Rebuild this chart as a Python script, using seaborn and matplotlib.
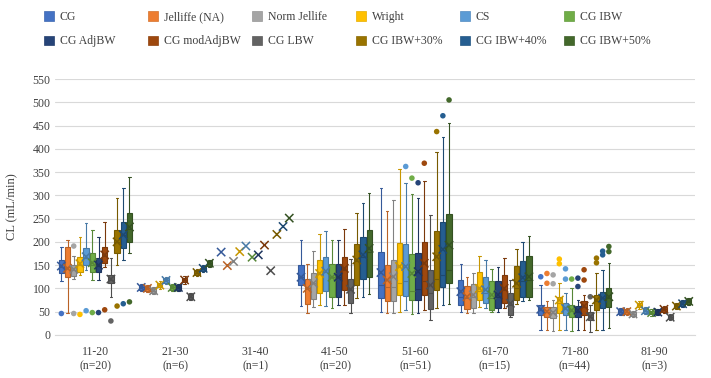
import matplotlib
matplotlib.use('Agg')
import matplotlib.pyplot as plt
import matplotlib.colors as mcolors
from matplotlib.patches import Patch
import seaborn as sns
import numpy as np
import pandas as pd

# age groups and methods
groups = ['11-20', '21-30', '31-40', '41-50', '51-60', '61-70', '71-80', '81-90']
group_n = [20, 6, 1, 20, 51, 15, 44, 3]
methods = ['CG', 'Jelliffe (NA)', 'Norm Jellife', 'Wright', 'CS', 'CG IBW',
           'CG AdjBW', 'CG modAdjBW', 'CG LBW', 'CG IBW+30%', 'CG IBW+40%', 'CG IBW+50%']
colors = ['#4472C4', '#ED7D31', '#A5A5A5', '#FFC000', '#5B9BD5', '#70AD47',
          '#264478', '#9E480E', '#636363', '#997300', '#255E91', '#43682B']

# box stats per method: [whisker low, q1, median, q3, whisker high, mean]
g11_20 = [[115, 134, 145, 162, 190, 148], [48, 125, 145, 190, 205, 143],
          [120, 127, 140, 150, 170, 141], [129, 136, 150, 167, 211, 153],
          [140, 150, 165, 186, 240, 168], [118, 136, 150, 175, 225, 155],
          [118, 136, 148, 165, 211, 150], [147, 154, 170, 190, 243, 172],
          [82, 111, 118, 129, 165, 120], [150, 175, 200, 226, 294, 200],
          [162, 186, 215, 243, 315, 215], [175, 200, 228, 261, 339, 232]]
g21_30 = [[94, 97, 102, 107, 110, 102], [92, 95, 100, 105, 108, 100],
          [88, 91, 95, 100, 102, 95], [99, 102, 107, 112, 115, 107],
          [109, 112, 117, 122, 125, 117], [94, 97, 102, 107, 110, 102],
          [94, 97, 102, 107, 110, 102], [110, 113, 118, 123, 126, 118],
          [75, 78, 82, 87, 89, 82], [126, 129, 134, 139, 142, 134],
          [135, 138, 143, 148, 151, 143], [146, 149, 154, 159, 162, 154]]
# n=1: only a single value per method
m31_40 = [178, 149, 158, 179, 191, 167, 172, 193, 138, 216, 233, 251]
g41_50 = [[62, 107, 125, 150, 205, 124], [48, 67, 100, 120, 152, 100],
          [61, 77, 111, 132, 180, 111], [64, 90, 131, 161, 217, 132],
          [62, 95, 136, 167, 224, 137], [57, 82, 124, 152, 204, 124],
          [64, 82, 125, 152, 205, 124], [64, 97, 140, 168, 227, 143],
          [48, 68, 97, 120, 163, 98], [79, 107, 158, 195, 263, 161],
          [81, 120, 168, 211, 284, 172], [87, 124, 179, 226, 306, 186]]
g51_60 = [[50, 79, 107, 179, 315, 134], [48, 72, 104, 150, 266, 118],
          [48, 72, 104, 160, 290, 125], [50, 86, 112, 197, 356, 147],
          [54, 84, 115, 195, 326, 147], [45, 74, 95, 174, 302, 132],
          [48, 75, 98, 175, 295, 136], [54, 86, 115, 199, 331, 154],
          [32, 55, 90, 140, 258, 107], [57, 97, 120, 224, 394, 168],
          [64, 104, 129, 242, 425, 184], [67, 111, 140, 259, 455, 193]]
g61_70 = [[50, 64, 82, 118, 152, 93], [47, 55, 79, 105, 125, 82],
          [47, 57, 82, 110, 132, 86], [61, 75, 95, 136, 170, 100],
          [57, 68, 90, 125, 161, 97], [50, 54, 79, 115, 141, 86],
          [50, 57, 82, 115, 147, 86], [57, 68, 97, 129, 166, 100],
          [39, 42, 64, 90, 118, 68], [67, 74, 100, 149, 184, 111],
          [72, 81, 115, 159, 200, 123], [74, 81, 118, 170, 213, 125]]
g71_80 = [[11, 43, 54, 64, 107, 55], [11, 39, 50, 59, 72, 50],
          [9, 36, 47, 59, 75, 48], [11, 48, 68, 81, 111, 75],
          [11, 43, 59, 68, 90, 57], [9, 38, 52, 64, 100, 53],
          [11, 38, 50, 62, 75, 53], [11, 43, 59, 72, 86, 62],
          [7, 31, 39, 50, 64, 39], [11, 54, 72, 86, 132, 75],
          [11, 57, 79, 93, 140, 79], [14, 61, 79, 100, 154, 82]]
g81_90 = [[42, 45, 50, 55, 58, 50], [42, 45, 50, 55, 58, 50],
          [38, 40, 45, 50, 52, 45], [56, 59, 64, 69, 72, 64],
          [45, 47, 52, 57, 59, 52], [41, 44, 48, 52, 55, 48],
          [42, 44, 49, 53, 56, 49], [48, 50, 55, 60, 62, 55],
          [31, 34, 38, 42, 45, 38], [55, 57, 62, 67, 69, 62],
          [60, 62, 67, 72, 74, 67], [65, 67, 72, 77, 79, 72]]

# outliers per method
out11_20 = [[46], [], [191, 46], [44], [52], [48], [48], [54], [30], [62], [67], [71]]
out51_60 = [[], [], [], [], [362], [337], [327], [369], [], [437], [471], [505]]
out71_80 = [[125], [132, 111], [129, 110], [163, 153], [142, 120], [120],
            [122, 104], [140, 118], [82], [165, 155], [180, 172], [190, 179]]

tables = {'11-20': g11_20, '21-30': g21_30, '41-50': g41_50, '51-60': g51_60,
          '61-70': g61_70, '71-80': g71_80, '81-90': g81_90}
outliers = {'11-20': out11_20, '51-60': out51_60, '71-80': out71_80}

BOX_W = 0.93


def darker(c, f=0.78):
    r, g, b = mcolors.to_rgb(c)
    return (r * f, g * f, b * f)


def dodge_x(gi, mi):
    step = BOX_W / len(methods)
    return gi + (mi - (len(methods) - 1) / 2) * step


# long tables
box_rows, mean_rows, out_rows = [], [], []
for gi, g in enumerate(groups):
    if g in tables:
        for mi, (m, row) in enumerate(zip(methods, tables[g])):
            for v in row[:5]:
                box_rows.append((g, m, v))
            mean_rows.append((dodge_x(gi, mi), m, row[5]))
    else:
        for mi, (m, v) in enumerate(zip(methods, m31_40)):
            mean_rows.append((dodge_x(gi, mi), m, v))
    if g in outliers:
        for mi, (m, vals) in enumerate(zip(methods, outliers[g])):
            for v in vals:
                out_rows.append((dodge_x(gi, mi), m, v))

df_box = pd.DataFrame(box_rows, columns=['group', 'method', 'value'])
df_mean = pd.DataFrame(mean_rows, columns=['x', 'method', 'value'])
df_out = pd.DataFrame(out_rows, columns=['x', 'method', 'value'])

palette = dict(zip(methods, colors))
dark_palette = {m: darker(c) for m, c in zip(methods, colors)}

sns.set_style('white')
plt.rcParams['font.family'] = ['Liberation Serif', 'DejaVu Serif']

fig = plt.figure(figsize=(7.11, 3.78), dpi=100)
ax = fig.add_axes([0.078, 0.114, 0.899, 0.677])

for m in methods:
    sns.boxplot(data=df_box[df_box['method'] == m], x='group', y='value',
                hue='method', order=groups, hue_order=methods, palette=palette,
                dodge=True, width=BOX_W, gap=0.15, whis=(0, 100), showfliers=False,
                saturation=1, linecolor=dark_palette[m], linewidth=0.8,
                legend=False, ax=ax)

sns.scatterplot(data=df_out, x='x', y='value', hue='method', palette=palette,
                marker='o', s=16, edgecolor='none', legend=False, ax=ax, zorder=4)
sns.scatterplot(data=df_mean, x='x', y='value', hue='method', palette=dark_palette,
                marker='x', s=36, linewidth=1.1, legend=False, ax=ax, zorder=5)

ax.set_xlim(-0.5, len(groups) - 0.5)
ax.set_ylim(0, 550)
ax.set_yticks(np.arange(0, 551, 50))
ax.set_xticks(range(len(groups)))
ax.set_xticklabels(['%s\n(n=%d)' % (g, n) for g, n in zip(groups, group_n)])
ax.set_xlabel('')
ax.set_ylabel('CL (mL/min)', fontsize=9, color='#404040', labelpad=10)
ax.yaxis.grid(True, color='#D9D9D9', linewidth=0.8)
ax.set_axisbelow(True)
for side in ['top', 'right', 'left']:
    ax.spines[side].set_visible(False)
ax.spines['bottom'].set_color('#D9D9D9')
ax.tick_params(axis='both', length=0, labelsize=8.5, colors='#404040')
ax.tick_params(axis='x', pad=8)

# legend: 6 columns x 2 rows
handles = [Patch(facecolor=c, edgecolor=darker(c, 0.9), linewidth=0.5) for c in colors]
col_x = [44, 148, 252, 356, 460, 564]
for j, x in enumerate(col_x):
    leg = fig.legend(handles=[handles[j], handles[j + 6]],
                     labels=[methods[j], methods[j + 6]],
                     loc='upper left', bbox_to_anchor=(x / 711, 1 - 11 / 378),
                     frameon=False, fontsize=8.5, handlelength=0.85,
                     handleheight=0.85, handletextpad=0.5, labelspacing=1.05,
                     borderpad=0, borderaxespad=0)
    for t in leg.get_texts():
        t.set_color('#404040')

fig.savefig('out.png', dpi=100)
